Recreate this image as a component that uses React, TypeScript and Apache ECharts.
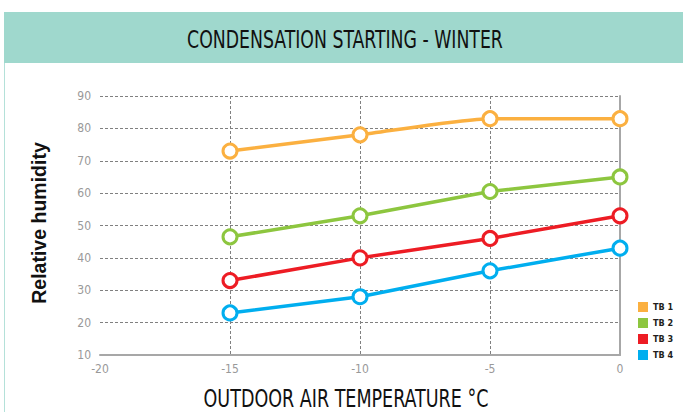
import React, { useEffect, useRef } from "react";
import * as echarts from "echarts";

const temperatures = [-15, -10, -5, 0];
const seriesNames = ["TB 1", "TB 2", "TB 3", "TB 4"];
const tb1 = [73, 78, 83, 83];
const tb2 = [46.5, 53, 60.5, 65];
const tb3 = [33, 40, 46, 53];
const tb4 = [23, 28, 36, 43];
const seriesColors = ["#fbb040", "#8dc63f", "#ed1c24", "#00aeef"];
const xTicks = { min: -20, max: 0, interval: 5 };
const yTicks = { min: 10, max: 90, interval: 10 };

const COND = '"Liberation Sans Narrow", "DejaVu Sans Condensed", "Arial Narrow", sans-serif';

export default function App() {
  const ref = useRef<HTMLDivElement>(null);
  useEffect(() => {
    document.body.style.margin = "0";
    const chart = echarts.init(ref.current!, null, { renderer: "svg" });
    const allData = [tb1, tb2, tb3, tb4];
    const series = allData.map((vals, i) => ({
      name: seriesNames[i],
      type: "line",
      data: vals.map((v, j) => [temperatures[j], v]),
      smooth: i === 0 ? 0.2 : false,
      symbol: "circle",
      symbolSize: 14,
      color: seriesColors[i],
      lineStyle: { width: 3.5, color: seriesColors[i] },
      itemStyle: { color: "#fff", borderColor: seriesColors[i], borderWidth: 3 },
      z: 10 - i,
    }));
    chart.setOption({
      animation: false,
      backgroundColor: "#fff",
      grid: { left: 100, right: 63, top: 96, height: 259 },
      xAxis: {
        type: "value",
        min: xTicks.min,
        max: xTicks.max,
        interval: xTicks.interval,
        axisLine: { show: true, lineStyle: { color: "#a7a7a7", width: 2 } },
        axisTick: { show: false },
        axisLabel: { color: "#999", fontSize: 12, margin: 8, fontFamily: COND },
        splitLine: {
          show: true,
          showMinLine: false,
          showMaxLine: false,
          lineStyle: { type: [3, 2], color: "#808080", width: 1 },
        },
      },
      yAxis: [
        {
          type: "value",
          min: yTicks.min,
          max: yTicks.max,
          interval: yTicks.interval,
          axisLine: { show: false },
          axisTick: { show: false },
          axisLabel: { color: "#999", fontSize: 12, margin: 9, fontFamily: COND },
          splitLine: {
            show: true,
            showMinLine: false,
            lineStyle: { type: [3, 2], color: "#808080", width: 1 },
          },
        },
        {
          type: "value",
          position: "right",
          min: yTicks.min,
          max: yTicks.max,
          axisLine: { show: true, lineStyle: { color: "#a7a7a7", width: 2 } },
          axisTick: { show: false },
          axisLabel: { show: false },
          splitLine: { show: false },
        },
      ],
      legend: {
        orient: "vertical",
        left: 633,
        top: 297,
        itemWidth: 10,
        itemHeight: 10,
        itemGap: 6,
        icon: "rect",
        textStyle: { fontSize: 9, fontWeight: "bold", color: "#231f20", fontFamily: COND },
        data: seriesNames.map((n, i) => ({
          name: n,
          itemStyle: { color: seriesColors[i], borderWidth: 0 },
        })),
      },
      graphic: [
        { type: "rect", shape: { x: 4, y: 12, width: 679, height: 51 }, style: { fill: "#9fd8cd" } },
        { type: "line", shape: { x1: 4.5, y1: 63, x2: 4.5, y2: 412 }, style: { stroke: "#b4e1d9", lineWidth: 1 } },
        {
          type: "text",
          x: 345,
          y: 39,
          scaleX: 0.77,
          style: {
            text: "CONDENSATION STARTING - WINTER",
            fill: "#111",
            font: `25px ${COND}`,
            align: "center",
            verticalAlign: "middle",
          },
        },
        {
          type: "text",
          x: 346,
          y: 398,
          scaleX: 0.78,
          style: {
            text: "OUTDOOR AIR TEMPERATURE °C",
            fill: "#111",
            font: `25px ${COND}`,
            align: "center",
            verticalAlign: "middle",
          },
        },
        {
          type: "text",
          x: 39,
          y: 223,
          rotation: Math.PI / 2,
          style: {
            text: "Relative humidity",
            fill: "#111",
            font: "bold 19.5px 'Liberation Sans', Arial, sans-serif",
            align: "center",
            verticalAlign: "middle",
          },
        },
      ],
      series,
    });
    return () => chart.dispose();
  }, []);
  return <div ref={ref} style={{ width: 683, height: 412 }} />;
}
